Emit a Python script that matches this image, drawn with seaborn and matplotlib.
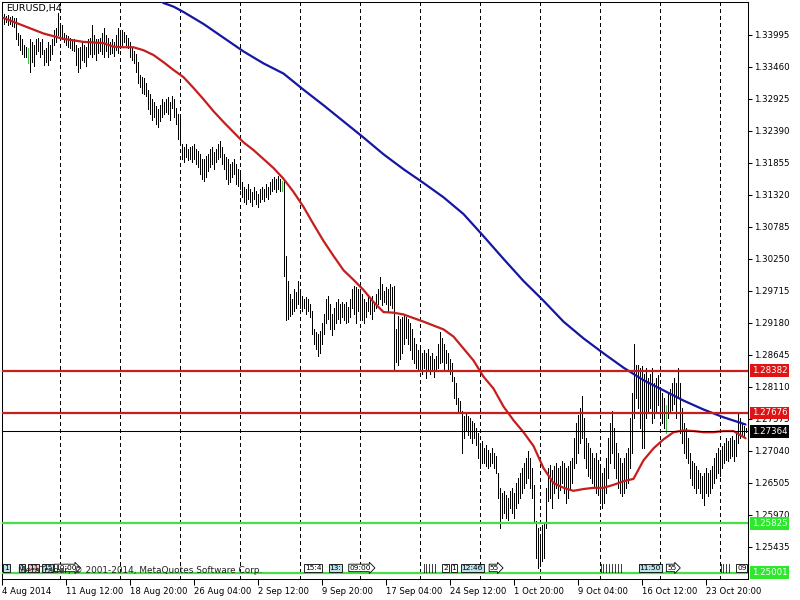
import numpy as np
import pandas as pd
import matplotlib
matplotlib.use("Agg")
import matplotlib.pyplot as plt
import matplotlib.transforms as mtrans
import seaborn as sns

# H4 bars, high / low (one bar every 2 px)
highs = [
    1.3435, 1.3432, 1.3433, 1.3430, 1.3432, 1.3428, 1.3428, 1.3403, 1.3400, 1.3392,
    1.3383, 1.3380, 1.3378, 1.3392, 1.3388, 1.3383, 1.3392, 1.3395, 1.3388, 1.3392,
    1.3375, 1.3378, 1.3387, 1.3383, 1.3392, 1.3408, 1.3412, 1.3437, 1.3413, 1.3417,
    1.3403, 1.3400, 1.3397, 1.3395, 1.3392, 1.3392, 1.3383, 1.3378, 1.3380, 1.3387,
    1.3383, 1.3380, 1.3392, 1.3395, 1.3417, 1.3400, 1.3392, 1.3392, 1.3395, 1.3403,
    1.3412, 1.3400, 1.3395, 1.3388, 1.3392, 1.3387, 1.3400, 1.3412, 1.3405, 1.3408,
    1.3405, 1.3400, 1.3395, 1.3387, 1.3378, 1.3372, 1.3367, 1.3355, 1.3333, 1.3330,
    1.3328, 1.3320, 1.3308, 1.3300, 1.3292, 1.3287, 1.3280, 1.3275, 1.3283, 1.3292,
    1.3287, 1.3292, 1.3295, 1.3287, 1.3297, 1.3292, 1.3278, 1.3267, 1.3263, 1.3217,
    1.3212, 1.3217, 1.3208, 1.3212, 1.3213, 1.3217, 1.3208, 1.3205, 1.3200, 1.3192,
    1.3192, 1.3197, 1.3200, 1.3208, 1.3212, 1.3203, 1.3208, 1.3217, 1.3222, 1.3212,
    1.3200, 1.3195, 1.3192, 1.3183, 1.3187, 1.3192, 1.3183, 1.3175, 1.3167, 1.3153,
    1.3145, 1.3142, 1.3150, 1.3142, 1.3137, 1.3145, 1.3138, 1.3133, 1.3142, 1.3145,
    1.3142, 1.3150, 1.3145, 1.3153, 1.3158, 1.3162, 1.3158, 1.3163, 1.3158, 1.3155,
    1.3155, 1.3030, 1.2988, 1.2967, 1.2958, 1.2975, 1.2970, 1.2988, 1.2975, 1.2963,
    1.2958, 1.2962, 1.2958, 1.2950, 1.2938, 1.2908, 1.2903, 1.2900, 1.2905, 1.2917,
    1.2933, 1.2958, 1.2963, 1.2950, 1.2933, 1.2942, 1.2953, 1.2958, 1.2950, 1.2953,
    1.2950, 1.2953, 1.2945, 1.2958, 1.2975, 1.2980, 1.2978, 1.2975, 1.2970, 1.2967,
    1.2958, 1.2953, 1.2963, 1.2958, 1.2963, 1.2953, 1.2967, 1.2975, 1.2995, 1.2983,
    1.2972, 1.2978, 1.2975, 1.2983, 1.2978, 1.2980, 1.2908, 1.2930, 1.2925, 1.2928,
    1.2933, 1.2928, 1.2925, 1.2917, 1.2908, 1.2892, 1.2883, 1.2872, 1.2875, 1.2867,
    1.2872, 1.2867, 1.2875, 1.2862, 1.2867, 1.2858, 1.2863, 1.2883, 1.2903, 1.2892,
    1.2883, 1.2872, 1.2867, 1.2858, 1.2850, 1.2828, 1.2817, 1.2792, 1.2787, 1.2770,
    1.2762, 1.2767, 1.2762, 1.2758, 1.2753, 1.2750, 1.2742, 1.2733, 1.2717, 1.2720,
    1.2708, 1.2713, 1.2705, 1.2700, 1.2708, 1.2700, 1.2695, 1.2667, 1.2642, 1.2633,
    1.2637, 1.2630, 1.2625, 1.2637, 1.2642, 1.2633, 1.2650, 1.2658, 1.2667, 1.2675,
    1.2683, 1.2692, 1.2703, 1.2692, 1.2675, 1.2647, 1.2587, 1.2575, 1.2558, 1.2580,
    1.2583, 1.2642, 1.2675, 1.2680, 1.2672, 1.2678, 1.2683, 1.2675, 1.2678, 1.2687,
    1.2683, 1.2675, 1.2678, 1.2687, 1.2692, 1.2725, 1.2750, 1.2763, 1.2775, 1.2795,
    1.2758, 1.2725, 1.2717, 1.2708, 1.2700, 1.2692, 1.2700, 1.2688, 1.2675, 1.2667,
    1.2675, 1.2692, 1.2725, 1.2750, 1.2770, 1.2742, 1.2717, 1.2700, 1.2692, 1.2683,
    1.2692, 1.2700, 1.2708, 1.2758, 1.2800, 1.2883, 1.2847, 1.2847, 1.2842, 1.2845,
    1.2833, 1.2842, 1.2825, 1.2833, 1.2842, 1.2817, 1.2825, 1.2830, 1.2805, 1.2800,
    1.2792, 1.2780, 1.2800, 1.2808, 1.2817, 1.2825, 1.2817, 1.2842, 1.2817, 1.2775,
    1.2750, 1.2742, 1.2725, 1.2700, 1.2687, 1.2683, 1.2678, 1.2672, 1.2667, 1.2662,
    1.2667, 1.2675, 1.2667, 1.2672, 1.2678, 1.2692, 1.2700, 1.2708, 1.2705, 1.2712,
    1.2717, 1.2725, 1.2720, 1.2725, 1.2728, 1.2722, 1.2733, 1.2767, 1.2758, 1.2750,
    1.2745, 1.2742,
]
lows = [
    1.3418, 1.3422, 1.3417, 1.3418, 1.3415, 1.3413, 1.3392, 1.3383, 1.3375, 1.3367,
    1.3363, 1.3362, 1.3353, 1.3337, 1.3355, 1.3347, 1.3367, 1.3372, 1.3362, 1.3368,
    1.3350, 1.3355, 1.3350, 1.3358, 1.3367, 1.3383, 1.3387, 1.3400, 1.3395, 1.3392,
    1.3387, 1.3383, 1.3380, 1.3378, 1.3375, 1.3372, 1.3350, 1.3338, 1.3345, 1.3358,
    1.3355, 1.3347, 1.3362, 1.3367, 1.3363, 1.3367, 1.3358, 1.3370, 1.3372, 1.3367,
    1.3363, 1.3372, 1.3362, 1.3367, 1.3370, 1.3365, 1.3375, 1.3370, 1.3378, 1.3383,
    1.3387, 1.3383, 1.3378, 1.3362, 1.3358, 1.3353, 1.3338, 1.3320, 1.3312, 1.3303,
    1.3300, 1.3297, 1.3275, 1.3267, 1.3258, 1.3263, 1.3250, 1.3245, 1.3255, 1.3262,
    1.3267, 1.3270, 1.3267, 1.3258, 1.3278, 1.3263, 1.3250, 1.3225, 1.3222, 1.3192,
    1.3187, 1.3195, 1.3190, 1.3192, 1.3187, 1.3192, 1.3183, 1.3178, 1.3167, 1.3158,
    1.3155, 1.3162, 1.3172, 1.3178, 1.3183, 1.3175, 1.3187, 1.3192, 1.3195, 1.3183,
    1.3175, 1.3158, 1.3150, 1.3153, 1.3162, 1.3167, 1.3150, 1.3147, 1.3142, 1.3128,
    1.3120, 1.3117, 1.3125, 1.3120, 1.3113, 1.3125, 1.3117, 1.3112, 1.3120, 1.3125,
    1.3122, 1.3128, 1.3125, 1.3133, 1.3138, 1.3142, 1.3137, 1.3142, 1.3138, 1.3138,
    1.2997, 1.2922, 1.2925, 1.2930, 1.2933, 1.2938, 1.2942, 1.2950, 1.2942, 1.2938,
    1.2942, 1.2933, 1.2937, 1.2928, 1.2900, 1.2883, 1.2875, 1.2862, 1.2867, 1.2883,
    1.2900, 1.2917, 1.2925, 1.2908, 1.2897, 1.2908, 1.2917, 1.2925, 1.2917, 1.2928,
    1.2922, 1.2917, 1.2920, 1.2928, 1.2942, 1.2933, 1.2917, 1.2938, 1.2928, 1.2922,
    1.2917, 1.2928, 1.2937, 1.2933, 1.2925, 1.2937, 1.2942, 1.2950, 1.2958, 1.2947,
    1.2953, 1.2950, 1.2938, 1.2947, 1.2942, 1.2837, 1.2853, 1.2847, 1.2858, 1.2867,
    1.2883, 1.2892, 1.2883, 1.2872, 1.2858, 1.2850, 1.2842, 1.2837, 1.2838, 1.2833,
    1.2842, 1.2825, 1.2838, 1.2833, 1.2838, 1.2828, 1.2837, 1.2842, 1.2850, 1.2853,
    1.2838, 1.2850, 1.2838, 1.2833, 1.2820, 1.2792, 1.2783, 1.2770, 1.2767, 1.2700,
    1.2725, 1.2737, 1.2730, 1.2725, 1.2717, 1.2725, 1.2713, 1.2692, 1.2675, 1.2683,
    1.2683, 1.2678, 1.2675, 1.2678, 1.2683, 1.2675, 1.2667, 1.2625, 1.2575, 1.2592,
    1.2600, 1.2592, 1.2588, 1.2608, 1.2600, 1.2592, 1.2608, 1.2617, 1.2625, 1.2633,
    1.2642, 1.2650, 1.2658, 1.2642, 1.2625, 1.2587, 1.2525, 1.2508, 1.2512, 1.2520,
    1.2525, 1.2575, 1.2620, 1.2625, 1.2608, 1.2633, 1.2642, 1.2625, 1.2638, 1.2650,
    1.2633, 1.2617, 1.2625, 1.2642, 1.2650, 1.2675, 1.2683, 1.2700, 1.2717, 1.2725,
    1.2692, 1.2675, 1.2662, 1.2658, 1.2650, 1.2642, 1.2633, 1.2630, 1.2617, 1.2608,
    1.2617, 1.2633, 1.2658, 1.2683, 1.2700, 1.2675, 1.2658, 1.2642, 1.2633, 1.2628,
    1.2633, 1.2642, 1.2650, 1.2675, 1.2700, 1.2758, 1.2792, 1.2775, 1.2742, 1.2708,
    1.2708, 1.2758, 1.2767, 1.2775, 1.2750, 1.2758, 1.2767, 1.2780, 1.2758, 1.2750,
    1.2742, 1.2733, 1.2758, 1.2767, 1.2772, 1.2783, 1.2758, 1.2792, 1.2733, 1.2717,
    1.2700, 1.2692, 1.2683, 1.2658, 1.2647, 1.2642, 1.2633, 1.2642, 1.2633, 1.2625,
    1.2613, 1.2633, 1.2628, 1.2633, 1.2642, 1.2650, 1.2658, 1.2667, 1.2662, 1.2675,
    1.2683, 1.2688, 1.2687, 1.2692, 1.2695, 1.2687, 1.2695, 1.2717, 1.2725, 1.2730,
    1.2728, 1.2735,
]
green_bars = [12, 139, 331]

# moving averages, sampled along the curves
ma_red_bar = [0, 10, 20, 30, 40, 50, 55, 60, 65, 70, 75, 80, 85, 90, 95, 100, 105,
              110, 115, 120, 125, 130, 135, 140, 145, 150, 155, 160, 165, 170, 175,
              180, 185, 190, 195, 200, 210, 220, 225, 230, 235, 240, 245, 250, 255,
              260, 265, 270, 275, 280, 285, 290, 295, 300, 305, 310, 315, 320, 325,
              330, 335, 340, 345, 350, 355, 360, 365, 371]
ma_red = [1.3428, 1.3415, 1.3402, 1.3393, 1.3388, 1.3386, 1.3380, 1.3379, 1.3379,
          1.3374, 1.3366, 1.3354, 1.3341, 1.3329, 1.3311, 1.3292, 1.3272, 1.3254,
          1.3237, 1.3220, 1.3207, 1.3192, 1.3177, 1.3159, 1.3137, 1.3112, 1.3083,
          1.3055, 1.3030, 1.3006, 1.2990, 1.2973, 1.2953, 1.2936, 1.2935, 1.2932,
          1.2920, 1.2907, 1.2895, 1.2875, 1.2855, 1.2828, 1.2808, 1.2778, 1.2755,
          1.2735, 1.2712, 1.2675, 1.2650, 1.2642, 1.2637, 1.2640, 1.2642, 1.2642,
          1.2647, 1.2653, 1.2657, 1.2688, 1.2708, 1.2723, 1.2735, 1.2738, 1.2737,
          1.2735, 1.2735, 1.2737, 1.2737, 1.2725]
ma_blue_bar = [75, 80, 85, 90, 100, 110, 120, 130, 140, 150, 160, 170, 180, 190, 200,
               210, 220, 230, 240, 250, 260, 270, 280, 290, 300, 310, 320, 330, 340,
               350, 360, 371]
ma_blue = [1.3467, 1.3453, 1.3447, 1.3438, 1.3418, 1.3395, 1.3372, 1.3352, 1.3335,
           1.3308, 1.3282, 1.3255, 1.3228, 1.3200, 1.3175, 1.3152, 1.3128, 1.3100,
           1.3063, 1.3025, 1.2988, 1.2955, 1.2920, 1.2892, 1.2867, 1.2843, 1.2822,
           1.2805, 1.2788, 1.2773, 1.2760, 1.2748]

level_prices = [1.28382, 1.27676, 1.27364, 1.25825, 1.25001]
level_kinds = ["red", "red", "bid", "green", "green"]

price_ticks = [1.33995, 1.33460, 1.32925, 1.32390, 1.31855, 1.31320, 1.30785,
               1.30250, 1.29715, 1.29180, 1.28645, 1.28110, 1.27575, 1.27040,
               1.26505, 1.25970, 1.25435]
date_labels = ["4 Aug 2014", "11 Aug 12:00", "18 Aug 20:00", "26 Aug 04:00",
               "2 Sep 12:00", "9 Sep 20:00", "17 Sep 04:00", "24 Sep 12:00",
               "1 Oct 20:00", "9 Oct 04:00", "16 Oct 12:00", "23 Oct 20:00"]

# little trade/time tags sitting on the bottom edge
tag_bar = [0.3, 8, 12.8, 19.6, 25.8, 150.8, 163, 173, 209.8, 219.8, 224, 229, 243.2,
           298, 318, 331.8, 358, 366.8]
tag_text = ["1", "1", "11", "15", "10:00", "15:4", "13:", "09:00", "|||||", "2", "1",
            "12:46", "55", "||||||||", "11:50", "55", "||||", "09"]
tag_fill = ["#bfe3ea", "#bfe3ea", "#f2c4c4", "#bfe3ea", "white", "white", "#bfe3ea",
            "white", "none", "white", "white", "#bfe3ea", "white", "none", "#bfe3ea",
            "white", "none", "white"]

sns.set_style("white")
plt.rcParams["font.family"] = ["DejaVu Sans"]

fig = plt.figure(figsize=(8, 6), dpi=100)
ax = fig.add_axes([2 / 800, 21 / 600, 746 / 800, 577 / 600])
ax.set_xlim(-0.75, 372.25)
ax.set_ylim(1.248948, 1.345470)

# vertical dashed grid every 60 px
for gx in [28.25 + 30 * k for k in range(12)]:
    ax.axvline(gx, color="black", lw=0.75, ls=(0, (3, 3)), zorder=0.5,
               antialiased=False)

bars = pd.DataFrame({"high": highs, "low": lows})
bars["i"] = np.arange(len(bars))
cols = ["#44c044" if i in green_bars else "black" for i in bars["i"]]
ax.vlines(bars["i"], bars["low"], bars["high"], colors=cols, lw=0.5,
          antialiased=False, zorder=2)

red_df = pd.DataFrame({"bar": ma_red_bar, "price": ma_red})
blue_df = pd.DataFrame({"bar": ma_blue_bar, "price": ma_blue})
sns.lineplot(data=red_df, x="bar", y="price", color="#c41e1e", lw=1.6, ax=ax,
             legend=False, zorder=3)
sns.lineplot(data=blue_df, x="bar", y="price", color="#1616a2", lw=1.6, ax=ax,
             legend=False, zorder=3)

line_style = {"red": ("#c81e1e", 1.6, "#e01414"),
              "bid": ("black", 0.75, "black"),
              "green": ("#44e044", 1.6, "#2ee82e")}
ytrans = mtrans.blended_transform_factory(ax.transAxes, ax.transData)
for p, kind in zip(level_prices, level_kinds):
    lc, lw, bc = line_style[kind]
    ax.axhline(p, color=lc, lw=lw, zorder=4)
    ax.text(1.005, p, f"{p:.5f}", transform=ytrans, fontsize=6.2, color="white",
            va="center", ha="left", clip_on=False, zorder=6,
            bbox=dict(boxstyle="square,pad=0.2", fc=bc, ec="none"))

for b, t, f in zip(tag_bar, tag_text, tag_fill):
    if f == "none":
        ax.text(b, 1.2507, t, fontsize=6.2, color="black", va="center", ha="left",
                zorder=5)
        continue
    style = "rarrow,pad=0.1" if t in ("10:00", "09:00", "55") else "square,pad=0.1"
    ax.text(b, 1.2508, t, fontsize=5.4, color="black", va="center", ha="left",
            zorder=5, bbox=dict(boxstyle=style, fc=f, ec="black", lw=0.6))

# copyright line, written across the tags as in the terminal
ax.text(7, 1.25045, "MetaTrader, \u00a9 2001-2014, MetaQuotes Software Corp.",
        fontsize=6.4, color="#222222", va="center", ha="left", zorder=5.5)

ax.text(0.006, 0.997, "EURUSD,H4", transform=ax.transAxes, fontsize=6.8,
        va="top", ha="left", color="black", zorder=6)

# axes decoration in MetaTrader style
ax.yaxis.tick_right()
ax.set_yticks(price_ticks)
ax.set_yticklabels([f"{v:.5f}" for v in price_ticks])
ax.set_xticks([-0.75] + [31.25 + 32 * k for k in range(11)])
ax.set_xticklabels(date_labels)
for lbl in ax.get_xticklabels():
    lbl.set_ha("left")
ax.tick_params(axis="y", right=True, left=False, direction="out", length=3,
               width=0.75, pad=1, labelsize=6.2, colors="black")
ax.tick_params(axis="x", bottom=True, direction="out", length=4, width=0.75,
               pad=2, labelsize=6.1, colors="black")
ax.set_xlabel("")
ax.set_ylabel("")
for s in ax.spines.values():
    s.set_color("black")
    s.set_linewidth(0.75)
    s.set_visible(True)

fig.savefig("out.png", dpi=100, facecolor="white")
